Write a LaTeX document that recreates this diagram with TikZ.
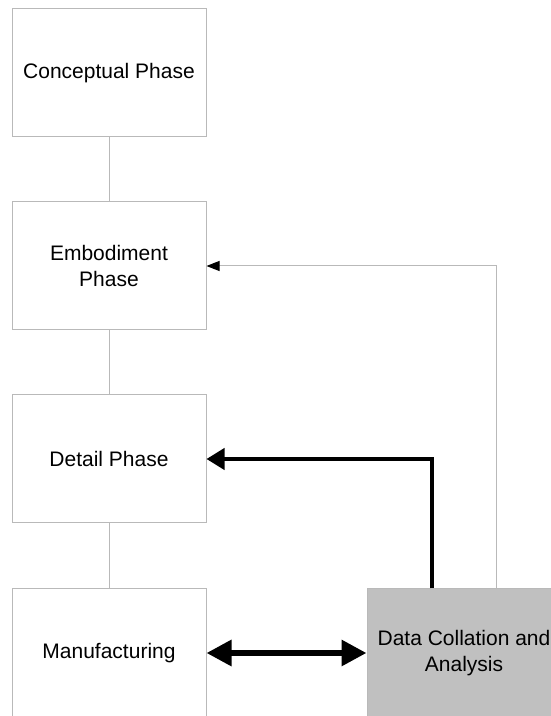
\documentclass[tikz,border=0pt]{standalone}
\usepackage{fontspec}
\setmainfont{Liberation Sans}
\usetikzlibrary{arrows.meta}
\definecolor{linegray}{RGB}{185,185,185}
\definecolor{fillgray}{RGB}{192,192,192}
\begin{document}
\begin{tikzpicture}[x=1pt,y=1pt,
  phasebox/.style={draw=linegray, line width=1pt, fill=white, minimum width=194pt, minimum height=128pt,
    inner sep=0pt, align=center, font=\fontsize{21}{25.5}\selectfont},
  thinlink/.style={draw=linegray, line width=1pt},
  thinarrow/.style={draw=linegray, line width=1pt, -{Triangle[length=13pt,width=10pt,color=black]}},
  thickarrow/.style={draw=black, line width=4pt, -{Triangle[length=18pt,width=21pt]}},
  doublearrow/.style={draw=black, line width=6pt, {Triangle[length=25pt,width=25pt]}-{Triangle[length=25pt,width=25pt]}}
]
\useasboundingbox (0,0) rectangle (551,716);
\clip (0,0) rectangle (551,716);
\node[phasebox] (con) at (109,643) {Conceptual Phase};
\node[phasebox] (emb) at (109,450) {Embodiment\\Phase};
\node[phasebox] (det) at (109,257) {Detail Phase};
\node[phasebox] (man) at (109,63) {Manufacturing};
\node[phasebox, fill=fillgray] (dat) at (464,63) {Data Collation and\\Analysis};
\draw[thinlink] (con.south) -- (emb.north);
\draw[thinlink] (emb.south) -- (det.north);
\draw[thinlink] (det.south) -- (man.north);
\draw[thinarrow] ([xshift=32.5pt]dat.north) |- (emb.east);
\draw[thickarrow] ([xshift=-32pt]dat.north) |- (det.east);
\draw[doublearrow] (man.east) -- (dat.west);
\end{tikzpicture}
\end{document}
